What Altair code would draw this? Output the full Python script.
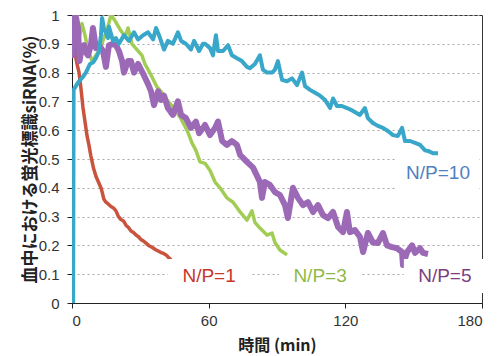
import altair as alt
import pandas as pd

# ---- data ----
red_t = [0.0, 0.5, 0.9, 1.5, 2.2, 3.1, 4.0, 4.8, 5.7, 6.6, 7.4, 8.3, 9.4, 10.5, 11.6, 12.7, 13.4, 14.0, 14.9,
         16.0, 17.1, 18.2, 19.3, 20.4, 21.5, 22.6, 23.7, 24.8, 25.9, 27.0, 28.1, 29.2, 30.3, 31.4, 32.5,
         33.6, 34.7, 35.8, 36.9, 38.0, 39.1, 40.2, 41.3, 42.4, 43.5]
red_y = [1.0, 0.98, 0.93, 0.86, 0.83, 0.80, 0.74, 0.68, 0.63, 0.58, 0.55, 0.51, 0.47, 0.44, 0.42, 0.40, 0.38,
         0.36, 0.35, 0.343, 0.335, 0.33, 0.32, 0.30, 0.29, 0.285, 0.27, 0.262, 0.25, 0.245, 0.236, 0.23,
         0.22, 0.215, 0.208, 0.2, 0.195, 0.19, 0.184, 0.18, 0.175, 0.172, 0.167, 0.158, 0.15]

green_t = [0.4, 2.6, 4.4, 5.7, 7.0, 8.8, 10.5, 12.3, 14.0, 15.8, 17.1, 18.9, 21.1, 23.3, 24.6, 26.3, 28.5,
           30.7, 32.0, 33.4, 35.1, 37.3, 39.5, 41.7, 44.3, 47.4, 50.5, 52.7, 54.4, 56.2, 58.4, 60.6, 62.8,
           65.0, 68.0, 70.7, 73.8, 76.8, 79.0, 80.3, 82.5, 85.6, 87.8, 89.1, 91.3, 94.4]
green_y = [0.97, 0.90, 0.97, 0.93, 0.88, 0.84, 0.86, 0.88, 0.92, 0.96, 1.0, 0.98, 0.95, 0.925, 0.955, 0.90,
           0.88, 0.86, 0.83, 0.81, 0.785, 0.75, 0.73, 0.705, 0.68, 0.646, 0.60, 0.555, 0.53, 0.49, 0.485,
           0.46, 0.42, 0.40, 0.365, 0.35, 0.316, 0.288, 0.32, 0.28, 0.26, 0.236, 0.243, 0.21, 0.184, 0.167]

purple_t = [0.0, 0.2, 0.4, 0.9, 1.8, 2.6, 3.3, 4.0, 5.3, 6.1, 7.0, 8.3, 9.2, 10.5, 11.9, 13.6, 14.9, 16.2,
            18.0, 19.3, 20.6, 22.0, 22.8, 24.6, 25.9, 27.2, 29.0, 30.3, 31.6, 33.4, 34.7, 36.0, 37.8, 39.1,
            40.4, 42.1, 44.3, 46.5, 47.9, 50.0, 52.2, 54.4, 55.8, 57.5, 58.4, 60.6, 62.8, 64.1, 65.9, 68.0,
            70.2, 72.4, 73.8, 76.8, 79.5, 82.5, 83.4, 84.7, 86.9, 89.1, 91.3, 93.5, 94.8, 97.0, 99.2, 101.4,
            103.6, 105.8, 108.0, 110.2, 112.4, 114.6, 116.8, 119.0, 120.7, 122.0, 124.2, 126.4, 127.8, 129.9,
            132.1, 134.3, 136.5, 138.3, 140.5, 142.7, 144.9, 145.3, 147.1, 149.3, 150.6, 152.8, 154.1, 156.3]
purple_y = [1.0, 0.86, 0.97, 0.91, 0.99, 0.955, 0.84, 0.875, 0.895, 0.87, 0.86, 0.895, 0.955, 0.885, 0.895,
            0.875, 0.82, 0.895, 0.90, 0.895, 0.875, 0.84, 0.80, 0.84, 0.84, 0.80, 0.83, 0.81, 0.79, 0.76,
            0.735, 0.687, 0.735, 0.705, 0.72, 0.677, 0.653, 0.70, 0.653, 0.642, 0.608, 0.63, 0.59, 0.608,
            0.618, 0.583, 0.608, 0.63, 0.5625, 0.549, 0.5625, 0.549, 0.514, 0.49, 0.47, 0.42, 0.365, 0.42,
            0.41, 0.385, 0.375, 0.34, 0.295, 0.40, 0.365, 0.34, 0.35, 0.316, 0.34, 0.305, 0.295, 0.316,
            0.264, 0.246, 0.316, 0.246, 0.253, 0.23, 0.177, 0.243, 0.21, 0.208, 0.243, 0.20, 0.194, 0.19,
            0.177, 0.132, 0.177, 0.20, 0.174, 0.19, 0.174, 0.17]

blue_t = [0.5, 0.7, 2.2, 3.1, 4.8, 6.1, 7.9, 9.2, 10.5, 11.9, 12.7, 13.2, 14.0, 15.8, 16.2, 18.0, 19.3, 20.6,
          22.8, 25.0, 27.2, 29.0, 31.2, 33.4, 35.6, 36.9, 38.2, 40.4, 42.1, 44.3, 46.5, 47.9, 50.0, 52.2,
          53.6, 55.8, 57.5, 58.4, 60.6, 61.9, 63.2, 64.1, 66.3, 68.5, 70.2, 72.4, 74.6, 76.8, 78.1, 80.3,
          82.5, 83.8, 85.6, 87.8, 89.1, 90.4, 92.2, 94.4, 96.6, 98.8, 101.0, 102.3, 104.5, 106.7, 108.9,
          111.1, 113.3, 114.6, 116.3, 118.5, 120.7, 123.4, 126.4, 128.6, 129.9, 132.1, 134.3, 136.5, 138.7,
          140.9, 143.1, 144.9, 146.2, 148.4, 150.6, 152.8, 155.0, 156.3, 158.5, 160.7]
blue_y = [0.0, 0.74, 0.76, 0.77, 0.785, 0.80, 0.83, 0.835, 0.85, 0.875, 0.93, 0.99, 0.955, 0.92, 0.96, 0.91,
          0.92, 0.90, 0.93, 0.91, 0.94, 0.915, 0.93, 0.94, 0.915, 0.955, 0.93, 0.88, 0.91, 0.90, 0.94,
          0.91, 0.90, 0.88, 0.91, 0.875, 0.90, 0.90, 0.885, 0.86, 0.93, 0.875, 0.875, 0.895, 0.86, 0.85,
          0.84, 0.82, 0.815, 0.83, 0.86, 0.81, 0.80, 0.80, 0.81, 0.84, 0.775, 0.77, 0.78, 0.757, 0.80,
          0.753, 0.74, 0.73, 0.72, 0.705, 0.677, 0.71, 0.684, 0.684, 0.677, 0.667, 0.653, 0.677, 0.642,
          0.625, 0.615, 0.608, 0.597, 0.583, 0.58, 0.608, 0.5625, 0.5625, 0.556, 0.549, 0.53, 0.528,
          0.52, 0.52]

label_text = ["N/P=1", "N/P=3", "N/P=5", "N/P=10"]
label_t = [60.2, 108.9, 163.7, 160.7]
label_y = [0.094, 0.094, 0.094, 0.451]
label_colors = ["#c8372a", "#8fba48", "#7b3f7f", "#4f80c0"]

line_colors = ["#c9533d", "#a2cd55", "#9c69b6", "#38a7c9"]
line_widths = [3.5, 3.5, 6, 4]

x_ticks = [0, 60, 120, 180]
y_ticks = [0, 0.1, 0.2, 0.3, 0.4, 0.5, 0.6, 0.7, 0.8, 0.9, 1.0]

# ---- build ----
x_scale = alt.Scale(domain=[0, 180], nice=False, zero=False)
y_scale = alt.Scale(domain=[0, 1], nice=False, zero=True)

x_axis = alt.Axis(values=x_ticks, title="時間 (min)", grid=False, domainColor="#222", tickColor="#222",
                  tickSize=5, labelPadding=5, labelFont="Liberation Sans", labelFontSize=15,
                  labelColor="#333", labelOverlap=False, titleFont="Noto Sans CJK JP", titleFontSize=16,
                  titleFontWeight="bold", titleColor="#222", titleX=205, titleY=42,
                  titleBaseline="middle", titleAlign="center")
y_axis = alt.Axis(values=y_ticks, tickCount=11, format="~g", title="血中における蛍光標識siRNA(%)",
                  grid=True, gridColor="#a8a8a8", gridDash=[2, 3], gridWidth=1, domainColor="#222",
                  tickColor="#222", tickSize=5, labelPadding=8, labelFont="Liberation Sans",
                  labelFontSize=15, labelColor="#333", labelOverlap=False, labelFlush=False,
                  titleFont="Noto Sans CJK JP", titleFontSize=17,
                  titleFontWeight="bold", titleColor="#222", titleX=-42, titleY=144, titleAngle=270,
                  titleBaseline="middle", titleAlign="center")

X = lambda: alt.X("t:Q", scale=x_scale, axis=x_axis)
Y = lambda: alt.Y("y:Q", scale=y_scale, axis=y_axis)

series = [(red_t, red_y), (green_t, green_y), (purple_t, purple_y), (blue_t, blue_y)]
layers = []
for i, (ts, ys) in enumerate(series):
    df = pd.DataFrame({"t": ts, "y": ys, "o": list(range(len(ts)))})
    layers.append(alt.Chart(df).mark_line(color=line_colors[i], strokeWidth=line_widths[i],
                                          strokeJoin="round", clip=True).encode(x=X(), y=Y(), order="o:Q"))

lab = pd.DataFrame({"text": label_text, "t": label_t, "y": label_y, "c": label_colors})
boxes = alt.Chart(lab).mark_rect(color="white", width=82, height=34).encode(x=X(), y=Y())
texts = alt.Chart(lab).mark_text(font="Liberation Sans", fontSize=19, align="center",
                                 baseline="middle").encode(
    x=X(), y=Y(), text="text:N", color=alt.Color("c:N", scale=None))

chart = alt.layer(*layers, boxes, texts).properties(
    width=410, height=288,
    autosize=alt.AutoSizeParams(type="none"),
    padding={"left": 64, "top": 7, "right": 7, "bottom": 53},
    background="white",
).configure_view(stroke="#333", strokeWidth=1)

chart.save("out.html", embed_options={"renderer": "svg", "actions": False})
